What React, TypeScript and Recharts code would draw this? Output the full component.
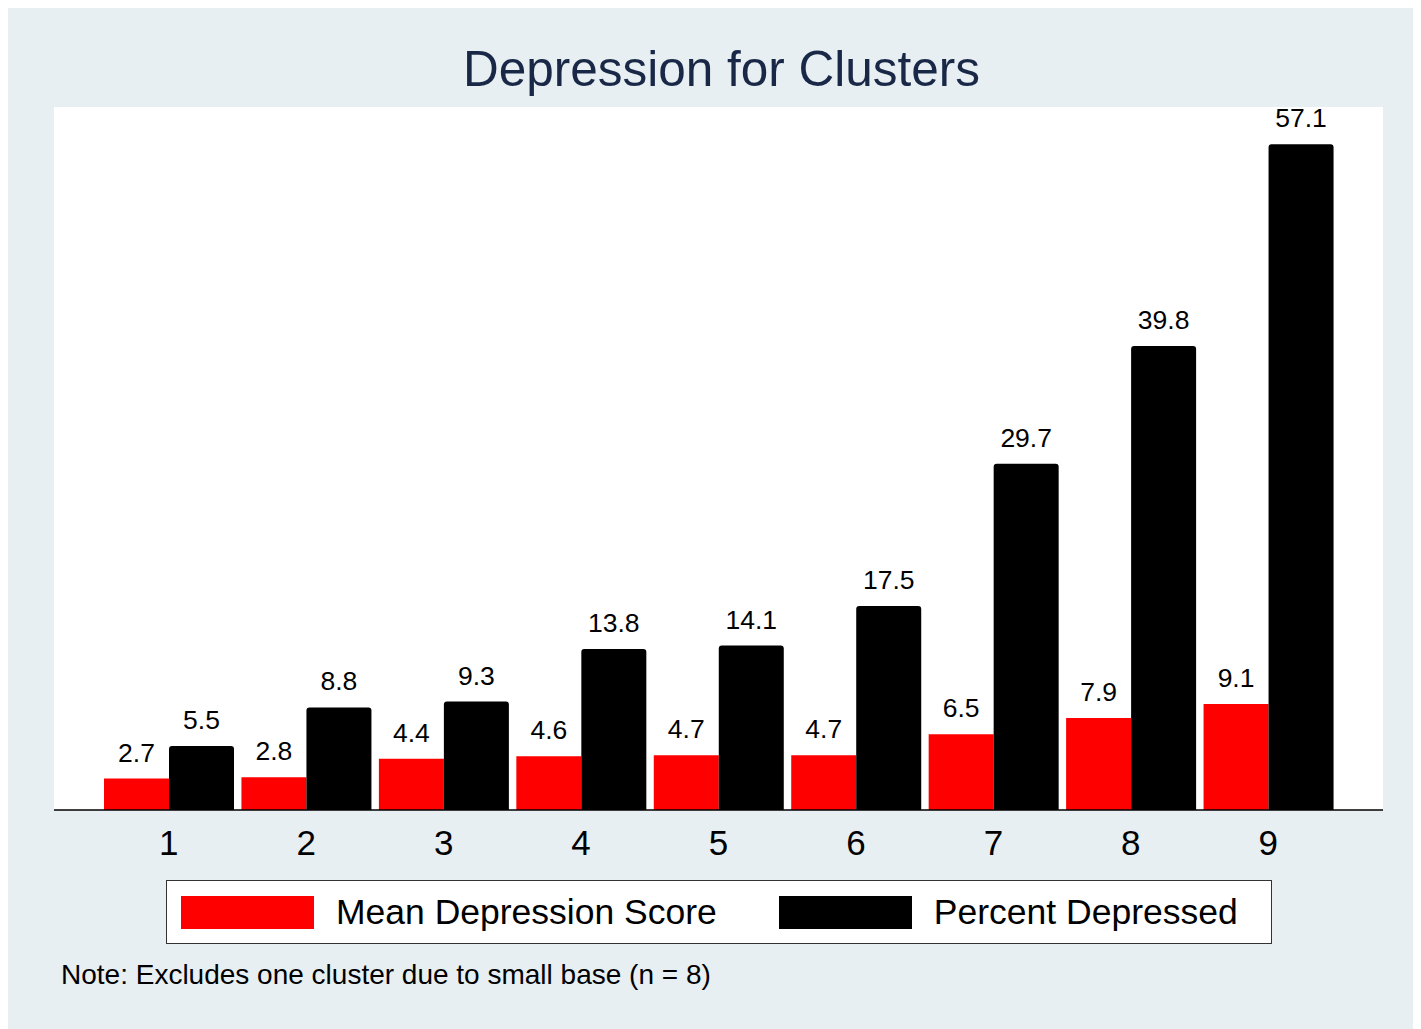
import { Bar, BarChart, CartesianGrid, LabelList, Legend, XAxis, YAxis } from "recharts";

const clusters = ["1", "2", "3", "4", "5", "6", "7", "8", "9"];
const meanScore = [2.7, 2.8, 4.4, 4.6, 4.7, 4.7, 6.5, 7.9, 9.1];
const pctDepressed = [5.5, 8.8, 9.3, 13.8, 14.1, 17.5, 29.7, 39.8, 57.1];

const data = clusters.map((c, i) => ({ cluster: c, mean: meanScore[i], pct: pctDepressed[i] }));

const FONT = "Arial, 'Liberation Sans', Helvetica, sans-serif";

function LegendBox({ payload }: { payload?: { value: string; color: string }[] }) {
  return (
    <div
      style={{
        display: "flex",
        alignItems: "center",
        background: "#fff",
        border: "1.5px solid #333",
        width: 1106,
        height: 64,
        boxSizing: "border-box",
        fontFamily: FONT,
        fontSize: 35.5,
        color: "#000",
      }}
    >
      {(payload || []).map((p, i) => (
        <div key={i} style={{ display: "flex", alignItems: "center", marginLeft: i === 0 ? 14 : 62 }}>
          <div style={{ width: 133, height: 33, background: p.color }} />
          <span style={{ marginLeft: 22 }}>{p.value}</span>
        </div>
      ))}
    </div>
  );
}

export default function App() {
  return (
    <div style={{ position: "relative", width: 1413, height: 1021, background: "#e8eff2", fontFamily: FONT }}>
      <div
        style={{
          position: "absolute",
          top: 32,
          left: 0,
          width: 1427,
          textAlign: "center",
          fontSize: 49.5,
          color: "#1a2848",
        }}
      >
        Depression for Clusters
      </div>
      <BarChart
        width={1413}
        height={1021}
        data={data}
        margin={{ top: 99, left: 46, right: 38, bottom: 125 }}
        barCategoryGap={4}
        barGap={0}
      >
        <CartesianGrid fill="#fff" stroke="none" horizontal={false} vertical={false} />
        <XAxis
          dataKey="cluster"
          axisLine={{ stroke: "#000", strokeWidth: 1.5 }}
          tickLine={false}
          padding={{ left: 46, right: 46 }}
          tick={{ fontSize: 35, fill: "#000", fontFamily: FONT }}
          tickMargin={14}
        />
        <YAxis hide domain={[0, 60.3]} />
        <Legend
          content={<LegendBox />}
          wrapperStyle={{ position: "absolute", top: 872, left: 158, width: 1106 }}
        />
        <Bar dataKey="mean" name="Mean Depression Score" fill="#ff0000" isAnimationActive={false}>
          <LabelList dataKey="mean" position="top" offset={17} style={{ fontSize: 26.5, fill: "#000", fontFamily: FONT }} />
        </Bar>
        <Bar dataKey="pct" name="Percent Depressed" fill="#000000" radius={[3, 3, 0, 0]} isAnimationActive={false}>
          <LabelList dataKey="pct" position="top" offset={17} style={{ fontSize: 26.5, fill: "#000", fontFamily: FONT }} />
        </Bar>
      </BarChart>
      <div style={{ position: "absolute", top: 951, left: 53, fontSize: 28, color: "#000" }}>
        Note: Excludes one cluster due to small base (n = 8)
      </div>
    </div>
  );
}
